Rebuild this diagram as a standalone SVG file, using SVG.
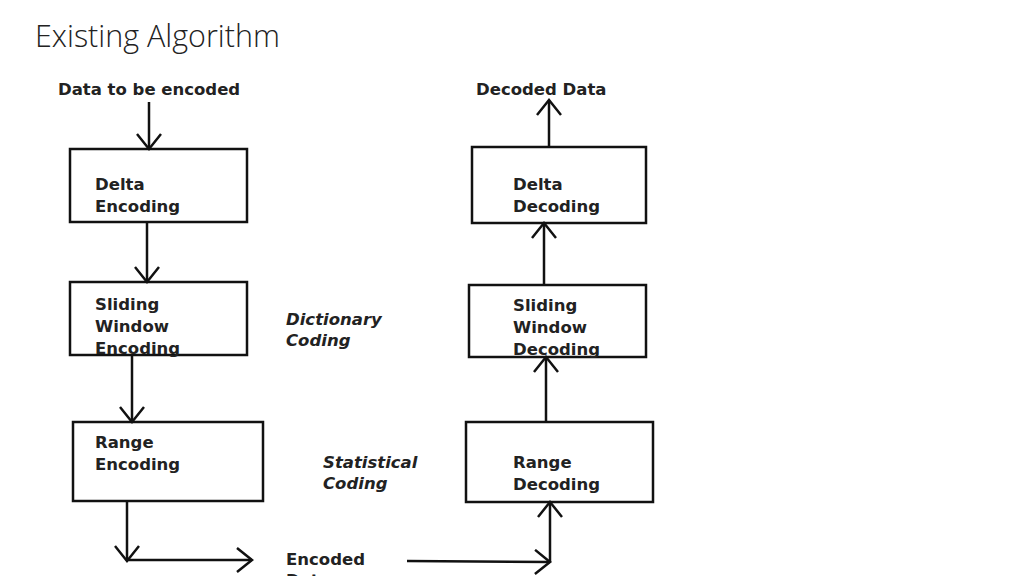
<svg xmlns="http://www.w3.org/2000/svg" width="1024" height="576" viewBox="0 0 1024 576">
<style>
.box{fill:#fff;stroke:#111;stroke-width:2.5}
.lbl{font-family:"DejaVu Sans","Liberation Sans",sans-serif;font-weight:bold;font-size:16.5px;fill:#222}
.it{font-family:"DejaVu Sans","Liberation Sans",sans-serif;font-weight:bold;font-style:italic;font-size:16.5px;fill:#222}
.ln{fill:none;stroke:#111;stroke-width:2.5}
.title{font-family:"Open Sans","Liberation Sans",sans-serif;font-weight:300;font-size:30.5px;fill:#222}
</style>
<defs>
<marker id="ah" markerUnits="userSpaceOnUse" markerWidth="18" markerHeight="26" viewBox="0 0 18 26" refX="16" refY="13" orient="auto">
<path d="M1,1 L16,13 L1,25" fill="none" stroke="#111" stroke-width="2.5"/>
</marker>
</defs>
<rect width="1024" height="576" fill="#fff"/>
<text class="title" x="35" y="47">Existing Algorithm</text>
<g id="n-input"><text class="lbl" x="58" y="95">Data to be encoded</text></g>
<g id="n-delta-enc"><rect class="box" x="70" y="149" width="177" height="73"/><text class="lbl" x="95" y="190">Delta</text><text class="lbl" x="95" y="212">Encoding</text></g>
<g id="n-sw-enc"><rect class="box" x="70" y="282" width="177" height="73"/><text class="lbl" x="95" y="310">Sliding</text><text class="lbl" x="95" y="332">Window</text><text class="lbl" x="95" y="354">Encoding</text></g>
<g id="n-range-enc"><rect class="box" x="73" y="422" width="190" height="79"/><text class="lbl" x="95" y="448">Range</text><text class="lbl" x="95" y="470">Encoding</text></g>
<g id="n-dict"><text class="it" x="286" y="325">Dictionary</text><text class="it" x="286" y="346">Coding</text></g>
<g id="n-stat"><text class="it" x="323" y="468">Statistical</text><text class="it" x="323" y="489">Coding</text></g>
<g id="n-encoded"><text class="lbl" x="286" y="565">Encoded</text><text class="lbl" x="286" y="586">Data</text></g>
<g id="n-range-dec"><rect class="box" x="466" y="422" width="187" height="80"/><text class="lbl" x="513" y="468">Range</text><text class="lbl" x="513" y="490">Decoding</text></g>
<g id="n-sw-dec"><rect class="box" x="469" y="285" width="177" height="72"/><text class="lbl" x="513" y="311">Sliding</text><text class="lbl" x="513" y="333">Window</text><text class="lbl" x="513" y="355">Decoding</text></g>
<g id="n-delta-dec"><rect class="box" x="472" y="147" width="174" height="76"/><text class="lbl" x="513" y="190">Delta</text><text class="lbl" x="513" y="212">Decoding</text></g>
<g id="n-output"><text class="lbl" x="476" y="95">Decoded Data</text></g>
<g id="connectors">
<line class="ln" x1="149" y1="102" x2="149" y2="149" marker-end="url(#ah)"/>
<line class="ln" x1="147" y1="222" x2="147" y2="282" marker-end="url(#ah)"/>
<line class="ln" x1="132" y1="355" x2="132" y2="422" marker-end="url(#ah)"/>
<line class="ln" x1="127" y1="501" x2="127" y2="561" marker-end="url(#ah)"/>
<line class="ln" x1="127" y1="560" x2="252" y2="560" marker-end="url(#ah)"/>
<line class="ln" x1="407" y1="561" x2="550" y2="562" marker-end="url(#ah)"/>
<line class="ln" x1="550" y1="562" x2="550" y2="502" marker-end="url(#ah)"/>
<line class="ln" x1="546" y1="422" x2="546" y2="357" marker-end="url(#ah)"/>
<line class="ln" x1="544" y1="285" x2="544" y2="223" marker-end="url(#ah)"/>
<line class="ln" x1="549" y1="147" x2="549" y2="100" marker-end="url(#ah)"/>
</g>
</svg>
